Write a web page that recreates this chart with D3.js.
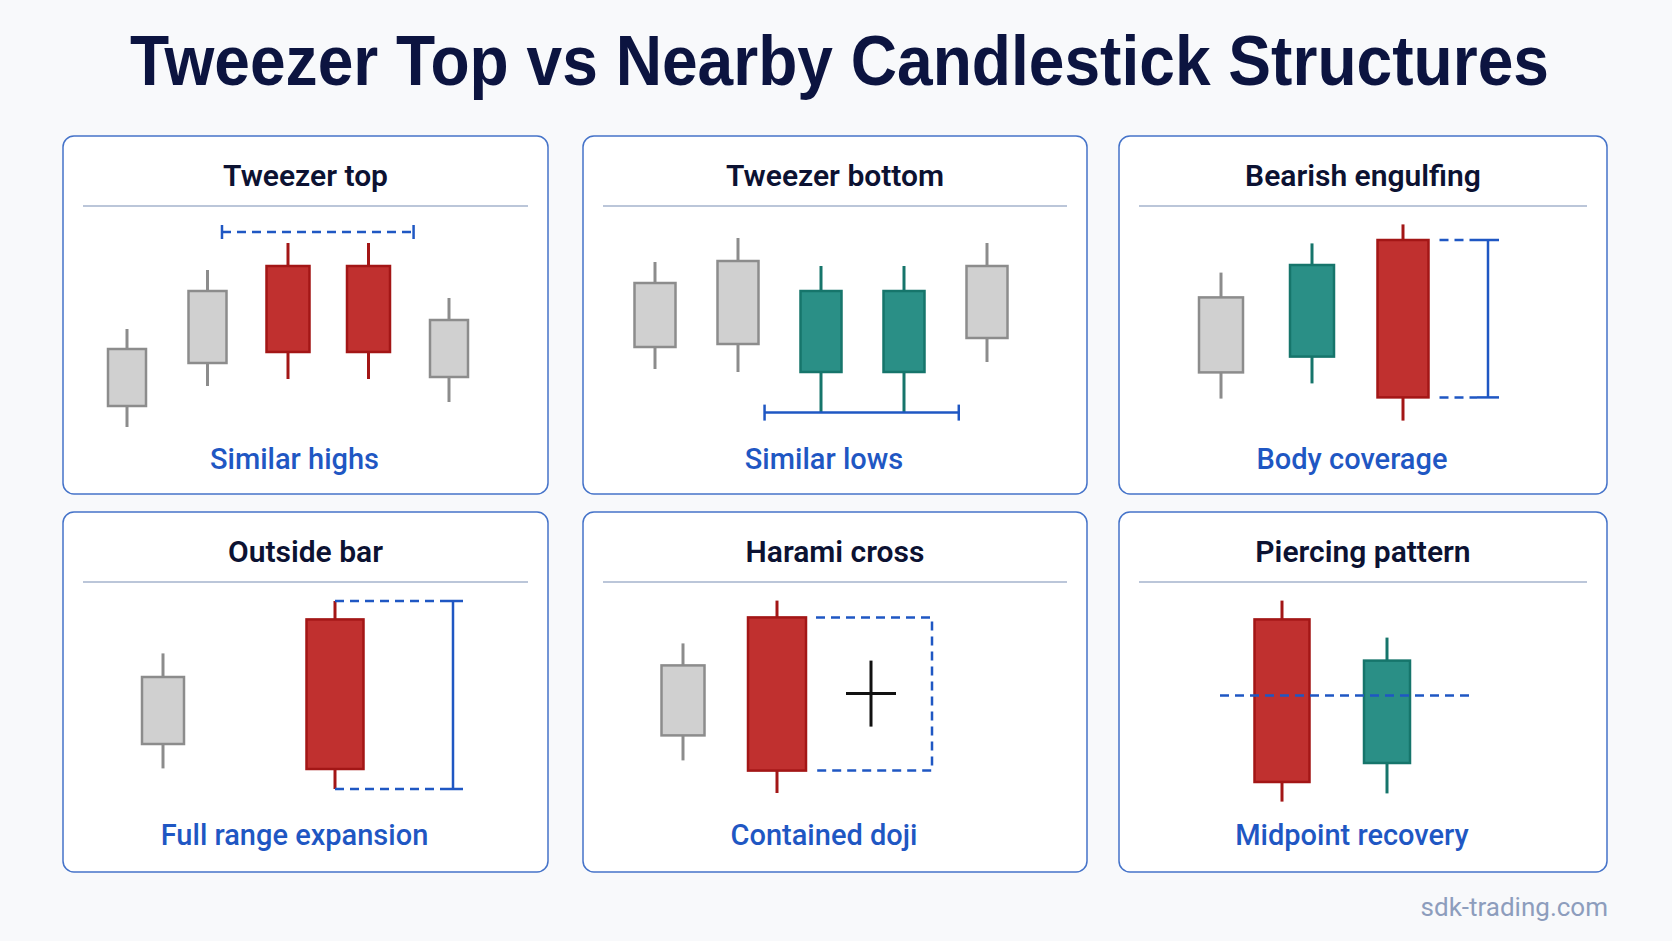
<!DOCTYPE html>
<html>
<head>
<meta charset="utf-8">
<script src="https://cdn.jsdelivr.net/npm/d3@7"></script>
<style>
  body { margin: 0; background: #f8f9fb; }
</style>
</head>
<body>
<div id="chart"></div>
<script>
// ==========================================================
// Data (prices are read off the picture, arbitrary units)
// ==========================================================
var chartTitle = "Tweezer Top vs Nearby Candlestick Structures";
var panelTitles = ["Tweezer top", "Tweezer bottom", "Bearish engulfing",
                   "Outside bar", "Harami cross", "Piercing pattern"];
var panelCaptions = ["Similar highs", "Similar lows", "Body coverage",
                     "Full range expansion", "Contained doji", "Midpoint recovery"];
var footerText = "sdk-trading.com";

var tweezerTopCandles = [
  { o: 15.0, h: 53.5, l: 4.5,  c: 43.5, kind: "neutral" },
  { o: 36.5, h: 83.0, l: 25.0, c: 72.5, kind: "neutral" },
  { o: 85.0, h: 96.5, l: 28.5, c: 42.0, kind: "bear" },
  { o: 85.0, h: 96.5, l: 28.5, c: 42.0, kind: "bear" },
  { o: 29.5, h: 69.0, l: 17.0, c: 58.0, kind: "neutral" }
];
var tweezerBottomCandles = [
  { o: 44.5, h: 87.0, l: 33.5, c: 76.5, kind: "neutral" },
  { o: 46.0, h: 99.0, l: 32.0, c: 87.5, kind: "neutral" },
  { o: 32.0, h: 85.0, l: 11.7, c: 72.5, kind: "bull" },
  { o: 32.0, h: 85.0, l: 11.7, c: 72.5, kind: "bull" },
  { o: 49.0, h: 96.5, l: 37.0, c: 85.0, kind: "neutral" }
];
var engulfingCandles = [
  { o: 31.8, h: 81.7,  l: 18.7, c: 69.3, kind: "neutral" },
  { o: 39.7, h: 96.3,  l: 26.3, c: 85.5, kind: "bull" },
  { o: 98.0, h: 105.8, l: 7.7,  c: 19.3, kind: "bear" }
];
var outsideBarCandles = [
  { o: 34.0, h: 79.3,  l: 21.8, c: 67.5, kind: "neutral" },
  { o: 96.3, h: 105.5, l: 11.5, c: 21.5, kind: "bear" }
];
var haramiCandles = [
  { o: 38.3, h: 84.3,  l: 25.8, c: 73.3, kind: "neutral" },
  { o: 97.3, h: 105.7, l: 9.5,  c: 20.7, kind: "bear" },
  { o: 59.3, h: 75.7,  l: 42.7, c: 59.3, kind: "doji" }
];
var piercingCandles = [
  { o: 96.3, h: 105.7, l: 5.2, c: 15.0, kind: "bear" },
  { o: 24.5, h: 87.2,  l: 9.3, c: 75.7, kind: "bull" }
];

// annotation levels
var similarHighLevel = 102;
var piercingMidLevel = 58.2;

var panelCandles = [tweezerTopCandles, tweezerBottomCandles, engulfingCandles,
                    outsideBarCandles, haramiCandles, piercingCandles];

// ==========================================================
// Layout
// ==========================================================
var svgWidth = 1672, svgHeight = 941;
var cols = [[63, 548], [583, 1087], [1119, 1607]];
var rows = [[136, 494], [512, 872]];

// x range inside each panel, body widths (normal / emphasised)
var panelLayout = [
  { xr: [64, 386],  bw: 38, ww: 43, wide: [2, 3] },
  { xr: [72, 404],  bw: 41, ww: 41, wide: [] },
  { xr: [102, 284], bw: 44, ww: 51, wide: [2] },
  { xr: [100, 272], bw: 42, ww: 57, wide: [1] },
  { xr: [100, 288], bw: 43, ww: 58, wide: [1] },
  { xr: [163, 268], bw: 46, ww: 55, wide: [0] }
];

var colors = {
  neutral: { fill: "#d0d0d0", stroke: "#8c8c8c" },
  bear:    { fill: "#c0302f", stroke: "#a31616" },
  bull:    { fill: "#2a8f86", stroke: "#16756b" },
  doji:    { fill: "none",    stroke: "#111111" }
};
var blue = "#1f57c3";

var svg = d3.select("#chart")
  .append("svg")
  .attr("width", svgWidth)
  .attr("height", svgHeight)
  .style("font-family", "Roboto, 'Liberation Sans', sans-serif");

svg.append("rect")
  .attr("width", svgWidth)
  .attr("height", svgHeight)
  .attr("fill", "#f8f9fb");

// main title: bold face squeezed horizontally to the width of the original
var titleWidth = 1419;
var title = svg.append("text")
  .attr("text-anchor", "middle")
  .style("font-family", "'Liberation Sans', Arial, sans-serif")
  .style("font-weight", 700)
  .style("font-size", "70px")
  .attr("fill", "#0c1440")
  .text(chartTitle);
var natural = title.node().getComputedTextLength();
title.attr("transform", `translate(839.5, 85) scale(${titleWidth / natural}, 1)`);

// one y scale shape for every panel (relative to panel top)
var yScale = d3.scaleLinear().domain([0, 110]).range([300, 80]);

panelCandles.forEach(function(candles, i) {
  var col = cols[i % 3], row = rows[Math.floor(i / 3)];
  var pw = col[1] - col[0], ph = row[1] - row[0];
  var lay = panelLayout[i];

  var g = svg.append("g")
    .attr("transform", `translate(${col[0]}, ${row[0]})`);

  // panel card
  g.append("rect")
    .attr("width", pw)
    .attr("height", ph)
    .attr("rx", 11)
    .attr("fill", "#ffffff")
    .attr("stroke", "#4573c9")
    .attr("stroke-width", 1.5);

  g.append("text")
    .attr("x", pw / 2)
    .attr("y", 50)
    .attr("text-anchor", "middle")
    .style("font-size", "30px")
    .style("font-weight", 600)
    .attr("fill", "#0c1232")
    .text(panelTitles[i]);

  g.append("line")
    .attr("x1", 20).attr("x2", pw - 20)
    .attr("y1", 70).attr("y2", 70)
    .attr("stroke", "#a5b3cc")
    .attr("stroke-width", 1.5);

  // captions sit a little left of centre in the original
  g.append("text")
    .attr("x", pw / 2 - 11)
    .attr("y", 333)
    .attr("text-anchor", "middle")
    .style("font-size", "29px")
    .style("font-weight", 500)
    .attr("fill", blue)
    .text(panelCaptions[i]);

  var x = d3.scalePoint()
    .domain(d3.range(candles.length))
    .range(lay.xr);
  var y = yScale;
  var step = candles.length > 1 ? x.step() : 0;
  var bodyW = function(j) { return lay.wide.indexOf(j) >= 0 ? lay.ww : lay.bw; };

  var cg = g.selectAll("g.candle")
    .data(candles)
    .enter()
    .append("g")
    .attr("class", "candle");

  // wicks
  cg.append("line")
    .attr("x1", (d, j) => x(j))
    .attr("x2", (d, j) => x(j))
    .attr("y1", d => y(d.h))
    .attr("y2", d => y(d.l))
    .attr("stroke", d => colors[d.kind].stroke)
    .attr("stroke-width", 3);

  // bodies
  cg.filter(d => d.kind !== "doji")
    .append("rect")
    .attr("x", (d, j) => x(j) - bodyW(j) / 2)
    .attr("y", d => y(Math.max(d.o, d.c)))
    .attr("width", (d, j) => bodyW(j))
    .attr("height", d => Math.abs(y(d.o) - y(d.c)))
    .attr("fill", d => colors[d.kind].fill)
    .attr("stroke", d => colors[d.kind].stroke)
    .attr("stroke-width", 2.5);

  // doji cross bar
  cg.filter(d => d.kind === "doji")
    .append("line")
    .attr("x1", function(d) { return x(candles.indexOf(d)) - 25; })
    .attr("x2", function(d) { return x(candles.indexOf(d)) + 25; })
    .attr("y1", d => y(d.o))
    .attr("y2", d => y(d.o))
    .attr("stroke", colors.doji.stroke)
    .attr("stroke-width", 3);

  var ann = g.append("g")
    .attr("fill", "none")
    .attr("stroke", blue)
    .attr("stroke-width", 2.5);
  var dash = "9,6";

  function iBeam(xc, y1, y2, cap) {
    ann.append("line").attr("x1", xc).attr("x2", xc).attr("y1", y1).attr("y2", y2);
    ann.append("line").attr("x1", xc - cap).attr("x2", xc + cap).attr("y1", y1).attr("y2", y1);
    ann.append("line").attr("x1", xc - cap).attr("x2", xc + cap).attr("y1", y2).attr("y2", y2);
  }
  function hBracket(x1, x2, yy, dashed, cap) {
    ann.append("line").attr("x1", x1).attr("x2", x2).attr("y1", yy).attr("y2", yy)
      .attr("stroke-dasharray", dashed ? dash : null);
    ann.append("line").attr("x1", x1).attr("x2", x1).attr("y1", yy - cap).attr("y2", yy + cap);
    ann.append("line").attr("x1", x2).attr("x2", x2).attr("y1", yy - cap).attr("y2", yy + cap);
  }

  if (i === 0) {
    hBracket(x(2) - 0.82 * step, x(3) + 0.56 * step, y(similarHighLevel), true, 7);
  } else if (i === 1) {
    var lowLevel = d3.min([candles[2], candles[3]], d => d.l);
    hBracket(x(2) - 0.68 * step, x(3) + 0.66 * step, y(lowLevel), false, 8);
  } else if (i === 2) {
    var eng = candles[2];
    var bx = x(2) + bodyW(2) / 2;
    var capX = x(2) + 85;
    [eng.o, eng.c].forEach(function(v) {
      ann.append("line").attr("x1", bx + 11).attr("x2", capX - 11)
        .attr("y1", y(v)).attr("y2", y(v)).attr("stroke-dasharray", dash);
    });
    iBeam(capX, y(eng.o), y(eng.c), 11);
  } else if (i === 3) {
    var ob = candles[1];
    var capX2 = x(1) + 118;
    [ob.h, ob.l].forEach(function(v) {
      ann.append("line").attr("x1", x(1)).attr("x2", capX2 - 10)
        .attr("y1", y(v)).attr("y2", y(v)).attr("stroke-dasharray", dash);
    });
    iBeam(capX2, y(ob.h), y(ob.l), 10);
  } else if (i === 4) {
    var mother = candles[1];
    var left = x(1) + bodyW(1) / 2 + 10, right = x(1) + 155;
    ann.append("path")
      .attr("d", `M${left},${y(mother.o)}H${right}V${y(mother.c)}H${left}`)
      .attr("stroke-dasharray", dash);
  } else if (i === 5) {
    ann.append("line")
      .attr("x1", x(0) - 62).attr("x2", x(1) + 87)
      .attr("y1", y(piercingMidLevel)).attr("y2", y(piercingMidLevel))
      .attr("stroke-dasharray", dash);
  }
});

// footer
svg.append("text")
  .attr("x", 1608)
  .attr("y", 916)
  .attr("text-anchor", "end")
  .style("font-size", "26px")
  .attr("fill", "#8d9dbd")
  .text(footerText);
</script>
</body>
</html>
